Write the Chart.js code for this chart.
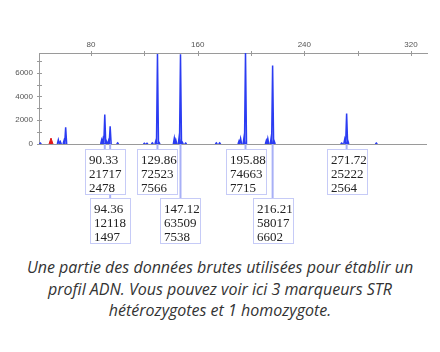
<!DOCTYPE html>
<html>
<head>
<meta charset="utf-8">
<script src="https://cdn.jsdelivr.net/npm/chart.js@4"></script>
<style>
  html, body { margin: 0; padding: 0; background: #fff; }
  body { width: 440px; height: 352px; overflow: hidden; }
  .chart-wrap { position: relative; width: 440px; height: 250px; }
  .caption {
    margin: 0;
    padding-top: 7px;
    text-align: center;
    font-family: 'Open Sans', sans-serif;
    font-style: italic;
    font-size: 16px;
    line-height: 21.5px;
    color: #333;
  }
</style>
</head>
<body>
<div class="chart-wrap"><canvas id="chart"></canvas></div>
<p class="caption">Une partie des données brutes utilisées pour établir un<br>profil ADN. Vous pouvez voir ici 3 marqueurs STR<br>hétérozygotes et 1 homozygote.</p>
<script>
// called alleles: size (bp), area, height (RFU)
const alleleSize = [90.33, 94.36, 129.86, 147.12, 195.88, 216.21, 271.72];
const alleleArea = [21717, 12118, 72523, 63509, 74663, 58017, 25222];
const alleleHeight = [2478, 1497, 7566, 7538, 7715, 6602, 2564];

// stutter / noise peaks
const minorPos = [42, 55.5, 57, 59.8, 61, 88, 89, 91.5, 93.2, 100, 120, 122, 126, 128.7, 131, 142.5, 143.6, 146.2, 148.5, 151, 174, 176.5, 191, 192.2, 194.8, 211.5, 212.6, 215.2, 217.4, 268, 270.3, 272.6, 294];
const minorHeight = [80, 350, 200, 300, 1400, 350, 420, 250, 300, 100, 60, 60, 100, 300, 150, 500, 350, 700, 150, 80, 100, 100, 250, 450, 600, 300, 450, 600, 250, 80, 400, 300, 80];

// size standard marker (red)
const markerPos = [50];
const markerHeight = [500];

const xTickValues = [80, 120, 160, 200, 240, 280, 320];
const xTicksMajor = [80, 160, 240, 320];
const yTickValues = [0, 1000, 2000, 3000, 4000, 5000, 6000, 7000];
const yTicksMajor = [0, 2000, 4000, 6000];

function buildTrace(pos, hts, half) {
  const order = pos.map((p, i) => i).sort((a, b) => pos[a] - pos[b]);
  const pts = [];
  order.forEach((i) => {
    pts.push({ x: pos[i] - half, y: 0 }, { x: pos[i], y: hts[i] }, { x: pos[i] + half, y: 0 }, { x: pos[i] + half, y: null });
  });
  return pts;
}

const bluePos = alleleSize.concat(minorPos);
const blueHeight = alleleHeight.concat(minorHeight);

const axisColor = '#9a9a9a';

const axesPlugin = {
  id: 'axesExtra',
  beforeDatasetsDraw(chart) {
    const { ctx, chartArea: a, scales } = chart;
    ctx.save();
    ctx.strokeStyle = axisColor;
    ctx.lineWidth = 1;
    ctx.beginPath();
    ctx.moveTo(a.left, Math.round(a.bottom) + 0.5);
    ctx.lineTo(a.right, Math.round(a.bottom) + 0.5);
    xTickValues.forEach((v) => {
      const x = Math.round(scales.x.getPixelForValue(v)) + 0.5;
      ctx.moveTo(x, a.top - 2);
      ctx.lineTo(x, a.top + 3);
    });
    yTickValues.forEach((v) => {
      const y = Math.round(scales.y.getPixelForValue(v)) + 0.5;
      ctx.moveTo(a.left - 2, y);
      ctx.lineTo(a.left + 3, y);
    });
    ctx.stroke();
    ctx.restore();
  },
};

const boxPlugin = {
  id: 'alleleBoxes',
  afterDraw(chart, args, opts) {
    const { ctx, chartArea: a, scales } = chart;
    ctx.save();
    const rowTop = [a.bottom + 5, a.bottom + 54];
    // connectors first, boxes drawn over them
    ctx.strokeStyle = '#a8b0f6';
    ctx.lineWidth = 2;
    alleleSize.forEach((s, i) => {
      const x = scales.x.getPixelForValue(s);
      ctx.beginPath();
      ctx.moveTo(x, a.bottom);
      ctx.lineTo(x, rowTop[opts.rows[i]]);
      ctx.stroke();
    });
    ctx.font = '13px "Liberation Serif", "Times New Roman", serif';
    ctx.textBaseline = 'middle';
    alleleSize.forEach((s, i) => {
      const x = scales.x.getPixelForValue(s);
      const left = Math.round(x - opts.width / 2) + 0.5;
      const top = Math.round(rowTop[opts.rows[i]]) + 0.5;
      ctx.fillStyle = '#fff';
      ctx.fillRect(left, top, opts.width, opts.height);
      ctx.strokeStyle = '#c6cbf7';
      ctx.lineWidth = 1;
      ctx.strokeRect(left, top, opts.width, opts.height);
      ctx.fillStyle = '#222';
      const lines = [s.toFixed(2), String(alleleArea[i]), String(alleleHeight[i])];
      lines.forEach((txt, k) => ctx.fillText(txt, left + 3.5, top + 11 + k * 14));
    });
    ctx.restore();
  },
};

new Chart(document.getElementById('chart'), {
  type: 'line',
  data: {
    datasets: [
      {
        data: buildTrace(bluePos, blueHeight, 0.75),
        borderColor: '#2b3cf2',
        backgroundColor: 'rgba(120,140,255,0.4)',
        borderWidth: 1.5,
        fill: 'origin',
        pointRadius: 0,
        tension: 0,
        spanGaps: false,
      },
      {
        data: buildTrace(markerPos, markerHeight, 1.5),
        borderColor: '#e01b1b',
        backgroundColor: '#e01b1b',
        borderWidth: 1,
        fill: 'origin',
        pointRadius: 0,
        tension: 0,
      },
    ],
  },
  options: {
    responsive: true,
    maintainAspectRatio: false,
    animation: false,
    events: [],
    layout: { padding: { left: 0, right: 13, top: 0, bottom: 106 } },
    plugins: {
      legend: { display: false },
      tooltip: { enabled: false },
      alleleBoxes: { width: 40, height: 45, rows: [0, 1, 0, 1, 0, 1, 0] },
    },
    scales: {
      x: {
        type: 'linear',
        position: 'top',
        min: 41,
        max: 332,
        afterBuildTicks(scale) {
          scale.ticks = xTicksMajor.map((v) => ({ value: v }));
        },
        afterFit(scale) { scale.height = 53; },
        ticks: {
          padding: 3,
          autoSkip: false,
          maxRotation: 0,
          color: '#555',
          font: { family: 'Liberation Sans, Arial, sans-serif', size: 8 },
        },
        grid: { display: false, drawTicks: false },
        border: { display: true, color: axisColor },
      },
      y: {
        min: 0,
        max: 7650,
        afterBuildTicks(scale) {
          scale.ticks = yTicksMajor.map((v) => ({ value: v }));
        },
        afterFit(scale) { scale.width = 39; },
        ticks: {
          padding: 6,
          autoSkip: false,
          color: '#555',
          font: { family: 'Liberation Sans, Arial, sans-serif', size: 8 },
          callback: (v) => String(v),
        },
        grid: { display: false, drawTicks: false },
        border: { display: true, color: axisColor },
      },
    },
  },
  plugins: [axesPlugin, boxPlugin],
});
</script>
</body>
</html>
